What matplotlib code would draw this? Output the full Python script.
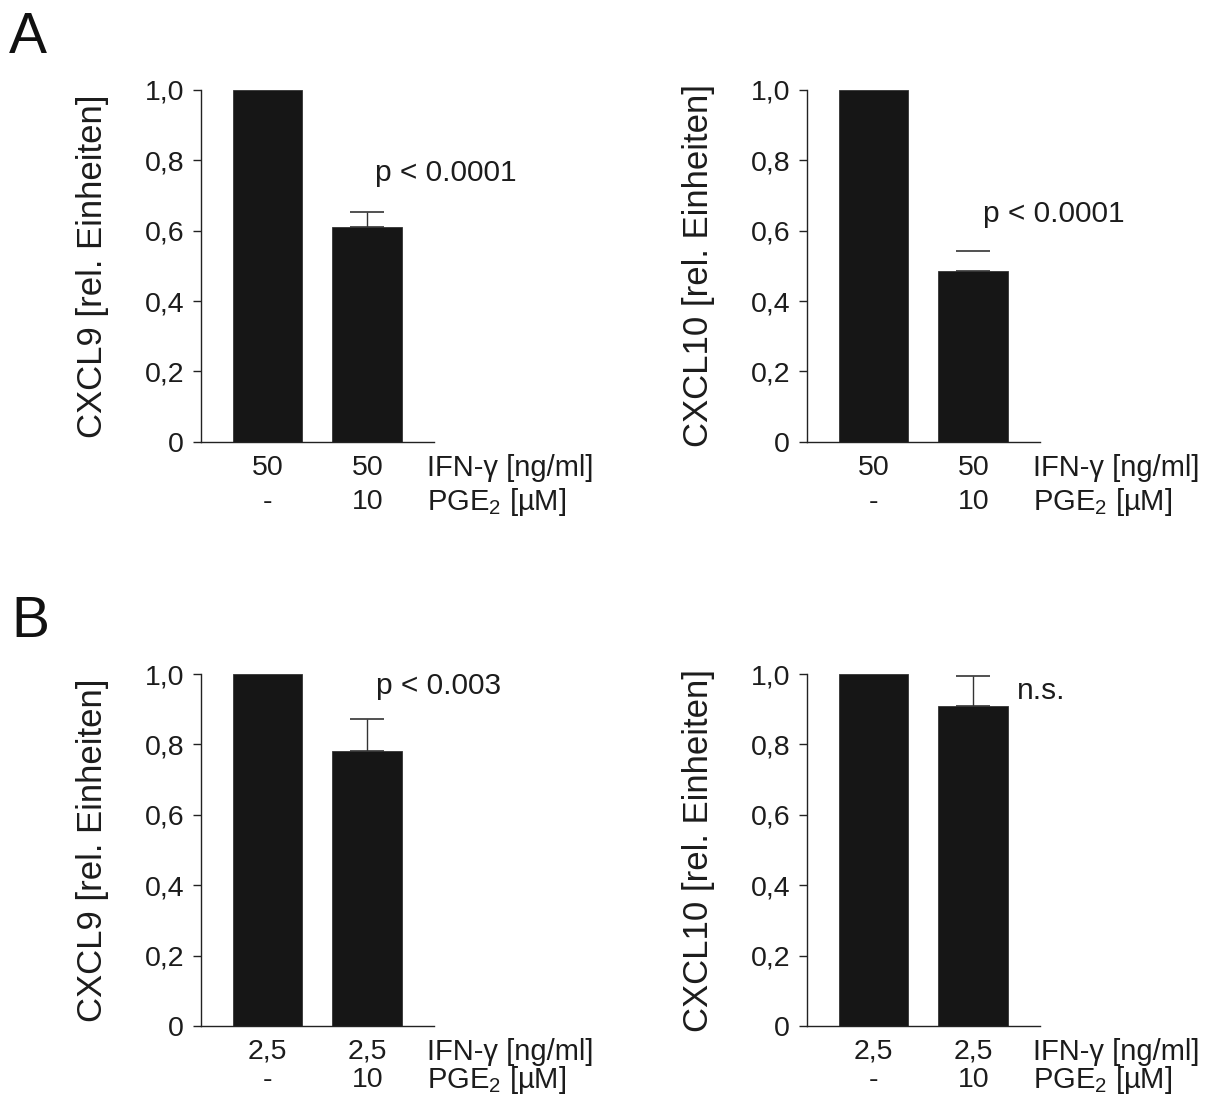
import matplotlib
matplotlib.use("Agg")
import matplotlib.pyplot as plt

plt.rcParams['font.family'] = ['Liberation Sans', 'DejaVu Sans']
plt.rcParams['mathtext.fontset'] = 'custom'
plt.rcParams['mathtext.rm'] = 'Liberation Sans'
plt.rcParams['mathtext.it'] = 'Liberation Sans:italic'

# ---- data ----
panel_letters = ["A", "B"]
genes = ["CXCL9", "CXCL10"]
ifn_labels = [["50", "50"], ["2,5", "2,5"]]
pge_labels = ["-", "10"]
# values [row][col] -> [control, PGE2]
values = [[[1.0, 0.61], [1.0, 0.484]],
          [[1.0, 0.782], [1.0, 0.908]]]
errors = [[[0.0, 0.043], [0.0, 0.059]],
          [[0.0, 0.089], [0.0, 0.087]]]
pvals = [["p < 0.0001", "p < 0.0001"], ["p < 0.003", "n.s."]]
pval_pos = [[(1.08, 0.763), (1.10, 0.648)], [(1.09, 0.966), (1.44, 0.952)]]
show_stem = [[True, False], [True, True]]
yticks = [0, 0.2, 0.4, 0.6, 0.8, 1.0]
ytick_labels = ["0", "0,2", "0,4", "0,6", "0,8", "1,0"]

W, H = 1211, 1098
fig = plt.figure(figsize=(W / 100, H / 100), dpi=100)

FS = 20.5
TC = '#1c1c1c'
bar_color = '#161616'
ax_left = [200.7, 806.7]
ax_width = 233.5
row_top = [90, 674]
row_bot = [441.7, 1026]
row2_offset = [60, 54]

for r in range(2):
    for c in range(2):
        x0 = ax_left[c] / W
        y0 = 1 - row_bot[r] / H
        hpx = row_bot[r] - row_top[r]
        ax = fig.add_axes([x0, y0, ax_width / W, hpx / H])
        xs = [0, 1]
        ax.bar(xs, values[r][c], width=0.7, color=bar_color, edgecolor='#333333', linewidth=0.6)
        err = errors[r][c]
        ax.errorbar([1], [values[r][c][1]], yerr=[[0], [err[1]]], fmt='none',
                    ecolor='#333333', elinewidth=1.0 if show_stem[r][c] else 0,
                    capsize=12.2, capthick=1.2)
        ax.set_xlim(-0.67, 1.67)
        ax.set_ylim(0, 1.0)
        ax.spines['top'].set_visible(False)
        ax.spines['right'].set_visible(False)
        for s in ['left', 'bottom']:
            ax.spines[s].set_linewidth(1.0)
            ax.spines[s].set_color('#222222')
        ax.set_yticks(yticks)
        ax.set_yticklabels(ytick_labels, fontsize=FS, color=TC)
        ax.tick_params(axis='y', length=6, width=1.0, pad=6, color='#222222')
        ax.set_xticks([])
        ax.patch.set_alpha(0)
        # x labels
        y1 = -26 / hpx
        y2 = -row2_offset[r] / hpx
        for i, x in enumerate(xs):
            ax.text(x, y1, ifn_labels[r][i], transform=ax.get_xaxis_transform(),
                    ha='center', va='center', fontsize=FS, color=TC)
            ax.text(x, y2, pge_labels[i], transform=ax.get_xaxis_transform(),
                    ha='center', va='center', fontsize=FS, color=TC)
        ax.text(1.6, y1, "IFN-γ [ng/ml]", transform=ax.get_xaxis_transform(),
                ha='left', va='center', fontsize=21, color=TC)
        ax.text(1.6, y2, "PGE$_2$ [µM]", transform=ax.get_xaxis_transform(),
                ha='left', va='center', fontsize=21, color=TC)
        # y label
        ax.text(-108 / ax_width, 0.5, genes[c] + " [rel. Einheiten]", transform=ax.transAxes,
                rotation=90, ha='center', va='center', fontsize=25, color=TC)
        # p value
        px, py = pval_pos[r][c]
        ax.text(px, py, pvals[r][c], ha='left', va='center', fontsize=21.5, color=TC)

fig.text(9 / W, 1 - 53 / H, panel_letters[0], fontsize=41, ha='left', va='baseline', color='#111111')
fig.text(11 / W, 1 - 637 / H, panel_letters[1], fontsize=41, ha='left', va='baseline', color='#111111')

fig.savefig("out.png", dpi=100, facecolor='white')
